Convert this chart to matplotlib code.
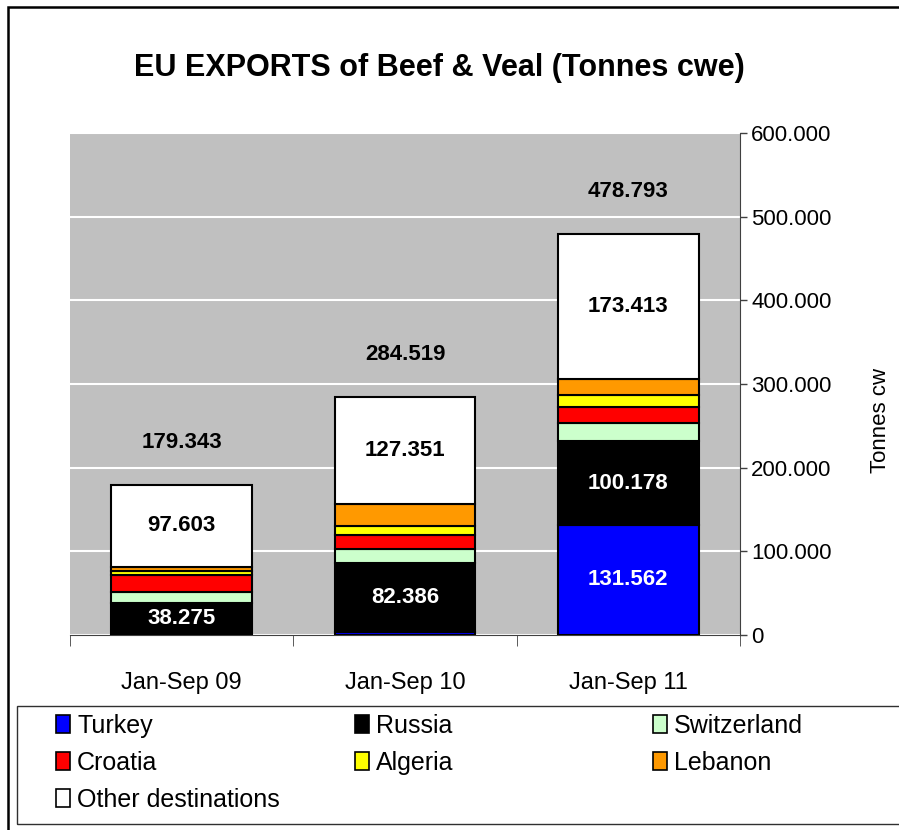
import matplotlib
matplotlib.use('Agg')
import matplotlib.pyplot as plt
from matplotlib.patches import Rectangle, Patch
import numpy as np

# data
periods = ['Jan-Sep 09', 'Jan-Sep 10', 'Jan-Sep 11']
series = ['Turkey', 'Russia', 'Switzerland', 'Croatia', 'Algeria', 'Lebanon', 'Other destinations']
turkey = [0, 3500, 131562]
russia = [38275, 82386, 100178]
switzerland = [13500, 16500, 21100]
croatia = [20000, 17000, 19900]
algeria = [4500, 10500, 13900]
lebanon = [5465, 27282, 18740]
other = [97603, 127351, 173413]
totals = [179343, 284519, 478793]

colors = ['#0000FF', '#000000', '#CCFFCC', '#FF0000', '#FFFF00', '#FF9900', '#FFFFFF']

plt.rcParams['font.family'] = ['Liberation Sans', 'DejaVu Sans']

W, H = 899, 830

def fmt(v):
    return f'{v:,}'.replace(',', '.')

fig = plt.figure(figsize=(W / 100, H / 100), dpi=100)
ax = fig.add_axes([70/W, 1-635/H, 670/W, 502/H])
ax.set_facecolor('#C0C0C0')

x = np.arange(len(periods))
values = [turkey, russia, switzerland, croatia, algeria, lebanon, other]
bottom = np.zeros(len(periods))
for name, vals, c in zip(series, values, colors):
    ax.bar(x, vals, 0.63, bottom=bottom, color=c, edgecolor='black', linewidth=1.5, label=name, zorder=3)
    bottom += np.array(vals)

# labels inside segments + totals
base = bottom - np.array(other)
for i in range(len(periods)):
    ax.text(x[i], base[i] + other[i] / 2, fmt(other[i]), ha='center', va='center',
            fontsize=16, fontweight='bold', color='black', zorder=4)
    ax.text(x[i], turkey[i] + russia[i] / 2, fmt(russia[i]), ha='center', va='center',
            fontsize=16, fontweight='bold', color='white', zorder=4)
    ax.text(x[i], totals[i] + 51000, fmt(totals[i]), ha='center', va='center',
            fontsize=16, fontweight='bold', color='black', zorder=4)
ax.text(x[2], turkey[2] / 2, fmt(turkey[2]), ha='center', va='center',
        fontsize=16, fontweight='bold', color='white', zorder=4)

ax.set_xlim(-0.5, 2.5)
ax.set_ylim(0, 600000)
ax.set_yticks(range(0, 600001, 100000))
ax.set_yticklabels([fmt(v) for v in range(0, 600001, 100000)], fontsize=16)
ax.yaxis.tick_right()
ax.grid(axis='y', color='white', linewidth=1.5, zorder=1)
ax.tick_params(axis='y', direction='out', length=5, width=1, color='#404040', pad=3)

ax.set_xticks(x)
ax.set_xticklabels(periods, fontsize=17)
ax.tick_params(axis='x', length=0, pad=27)
ax.set_xticks([-0.5, 0.5, 1.5, 2.5], minor=True)
ax.tick_params(axis='x', which='minor', length=8, direction='out', color='#404040')

for s in ['top', 'left']:
    ax.spines[s].set_visible(False)
ax.spines['right'].set_color('#404040')
ax.spines['bottom'].set_color('#404040')

fig.text(880/W, 1-420/H, 'Tonnes cw', rotation=90, ha='center', va='center', fontsize=16)

fig.text(439/W, 1-68/H, 'EU EXPORTS of Beef & Veal (Tonnes cwe)', ha='center', va='center',
         fontsize=22, fontweight='bold')

# legend box and three columns
fig.patches.append(Rectangle((17/W, 1-824/H), 900/W, 118/H, transform=fig.transFigure,
                             fill=False, edgecolor='#303030', linewidth=1.0))
columns = [[0, 3, 6], [1, 4], [2, 5]]
col_x = [56, 355, 653]
for idx, cx in zip(columns, col_x):
    handles = [Patch(facecolor=colors[k], edgecolor='black', linewidth=1.2) for k in idx]
    leg = fig.legend(handles, [series[k] for k in idx], loc='upper left',
                     bbox_to_anchor=(cx/W, 1-714/H), frameon=False, fontsize=18,
                     handlelength=0.55, handleheight=0.75, handletextpad=0.3,
                     labelspacing=0.52, borderpad=0, borderaxespad=0)

# outer frame (runs off the right and bottom edges)
fig.patches.append(Rectangle((8/W, -10/H), 920/W, 833/H, transform=fig.transFigure,
                             fill=False, edgecolor='black', linewidth=1.8))

fig.savefig('out.png', dpi=100)
